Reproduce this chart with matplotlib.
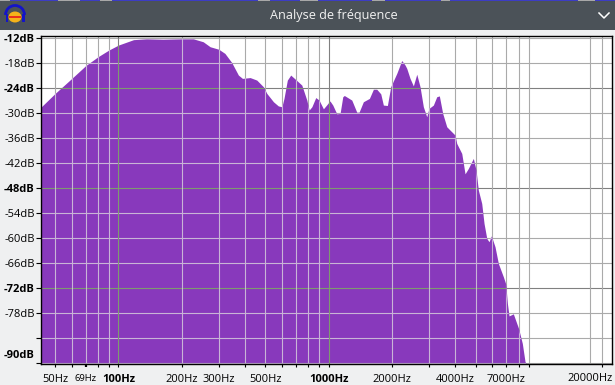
import matplotlib
matplotlib.use('Agg')
import matplotlib.pyplot as plt
from matplotlib.patches import Rectangle, Arc, Ellipse

plt.rcParams['font.family'] = ['Open Sans', 'DejaVu Sans']

# spectrum
freq = [42.8, 50, 60, 70, 80, 90, 100, 118, 136, 163, 200, 227, 253, 273, 300, 321, 346, 372, 389,
        423, 455, 489, 508, 546, 576, 599, 613, 636, 660, 705, 745, 787, 807, 832, 868, 900, 944,
        977, 1014, 1046, 1093, 1133, 1167, 1187, 1288, 1360, 1395, 1462, 1562, 1632, 1693, 1769,
        1820, 1902, 1973, 2108, 2226, 2309, 2352, 2438, 2528, 2624, 2720, 2820, 2927, 3000, 3147,
        3266, 3360, 3486, 3644, 3777, 3990, 4065, 4295, 4452, 4617, 4876, 5022, 5150, 5345, 5482,
        5649, 5790, 5940, 6182, 6412, 6773, 6950, 7080, 7209, 7556, 8000, 8337, 8590, 8730]
db = [-28.6, -25.3, -21.7, -18.6, -16.5, -14.9, -13.7, -12.4, -12.2, -12.3, -12.2, -12.2, -12.9,
      -14.1, -14.7, -15.7, -17.9, -20.9, -21.7, -21.5, -22.1, -23.7, -25.3, -27.3, -28.3, -28.5,
      -26.5, -22.1, -20.9, -22.2, -23.3, -26.9, -29.3, -28.5, -26.3, -26.9, -29.0, -28.1, -27.1,
      -28.1, -30.2, -30.1, -26.1, -25.8, -26.9, -29.8, -29.8, -27.3, -26.5, -24.3, -24.3, -25.4,
      -28.1, -28.2, -23.7, -20.5, -17.4, -18.5, -19.3, -21.7, -23.5, -20.7, -23.7, -28.5, -30.9,
      -28.9, -28.1, -26.1, -25.9, -30.1, -33.3, -34.1, -35.3, -37.3, -39.7, -44.6, -43.3, -40.9,
      -43.7, -48.5, -51.7, -56.5, -60.1, -60.9, -59.5, -62.1, -66.1, -69.3, -71.0, -75.7, -78.7,
      -78.2, -81.7, -85.3, -89.7, -90.2]

db_ticks = [-12, -18, -24, -30, -36, -42, -48, -54, -60, -66, -72, -78, -84, -90]
db_labels = ['-12dB', '-18dB', '-24dB', '-30dB', '-36dB', '-42dB', '-48dB', '-54dB', '-60dB',
             '-66dB', '-72dB', '-78dB', '', '']
db_bold = [-12, -24, -48, -72]
hz_ticks = [50, 60, 70, 80, 90, 100, 200, 300, 400, 500, 600, 700, 800, 900, 1000, 2000, 3000,
            4000, 5000, 6000, 7000, 8000, 9000, 20000]
hz_labels = {50: '50Hz', 70: '69Hz', 100: '100Hz', 200: '200Hz', 300: '300Hz', 500: '500Hz',
             1000: '1000Hz', 2000: '2000Hz', 4000: '4000Hz', 7000: '7000Hz'}
hz_dark = [100, 1000]
hz_extra = [17550]

W, H = 615, 385
fig = plt.figure(figsize=(W / 100, H / 100), dpi=100, facecolor='#eff0f1')

# window chrome, in pixels
bg = fig.add_axes([0, 0, 1, 1])
bg.set_xlim(0, W)
bg.set_ylim(H, 0)
bg.axis('off')
bg.add_patch(Rectangle((0, 1), W, 29, fc='#4b5258', ec='none'))
bg.add_patch(Rectangle((0, 0), W, 1.2, fc='#3c3cc4', ec='none'))
for a, b in [(0, 10), (58, 80), (100, 112), (258, 270), (300, 318), (372, 385), (441, 450), (578, 595)]:
    bg.add_patch(Rectangle((a, 0), b - a, 1.2, fc='#a8a8a8', ec='none'))
bg.add_patch(Ellipse((15, 17), 13, 11, fc='#f5b21a', ec='none'))
bg.add_patch(Rectangle((9, 16), 12, 2, fc='#e8301c', ec='none'))
bg.add_patch(Arc((15, 15), 19, 19, theta1=180, theta2=360, ec='#1414c8', lw=2))
bg.add_patch(Rectangle((5.5, 14), 2.5, 7.5, fc='#1414c8', ec='none'))
bg.add_patch(Rectangle((22, 14), 2.5, 7.5, fc='#1414c8', ec='none'))
bg.plot([599, 604, 609], [13, 18, 13], color='white', lw=1.1)
bg.text(333.5, 15.5, 'Analyse de fréquence', color='#f2f2f2', fontsize=9.1, ha='center', va='center')

ax = fig.add_axes([40.5 / W, 1 - 364 / H, (612 - 40.5) / W, (364 - 35.5) / H])
ax.set_xscale('log')
ax.set_xlim(42.6, 22260)
ax.set_ylim(-90.24, -11.4)
ax.set_facecolor('white')

poly = ax.fill_between(freq, db, -90.24, color='#8839bc', lw=0, zorder=2)

# grid: grey on white, tinted where it crosses the purple
for d in db_ticks:
    dark = d in db_bold[1:]
    ax.axhline(d, color='#808080' if dark else '#aaaaaa', lw=0.8, zorder=1)
    ln = ax.axhline(d, color='#7f9a70' if dark else '#c9b4d6', lw=0.8, zorder=3)
    ln.set_clip_path(poly.get_paths()[0], poly.get_transform())
for f in hz_ticks + hz_extra:
    dark = f in hz_dark
    ax.axvline(f, color='#808080' if dark else '#aaaaaa', lw=0.8, zorder=1)
    ln = ax.axvline(f, color='#7f9a70' if dark else '#c9b4d6', lw=0.8, zorder=3)
    ln.set_clip_path(poly.get_paths()[0], poly.get_transform())

ax.set_yticks(db_ticks)
ax.set_yticklabels(db_labels, fontsize=8)
for t, d in zip(ax.get_yticklabels(), db_ticks):
    if d in db_bold:
        t.set_fontweight('bold')
ax.tick_params(axis='y', length=3.6, width=0.8, pad=0.5, colors='black')
ax.annotate('-90dB', xy=(0, -90), xycoords=('axes fraction', 'data'), xytext=(-5.5, 8),
            textcoords='offset pixels', fontsize=8, fontweight='bold', ha='right', va='center')

ax.set_xticks(hz_ticks)
ax.set_xticklabels([hz_labels.get(f, '') for f in hz_ticks], fontsize=8)
ax.minorticks_off()
ax.tick_params(axis='x', length=2.3, width=0.8, pad=4.7, colors='black')
for t, f in zip(ax.get_xticklabels(), hz_ticks):
    if f in hz_dark:
        t.set_fontweight('bold')
    if f == 70:
        t.set_fontsize(6.8)
ax.get_xticklines()[hz_ticks.index(70) * 2].set_markeredgewidth(1.6)
ax.annotate('20000Hz', xy=(17550, 0), xycoords=('data', 'axes fraction'), xytext=(0, -9),
            textcoords='offset pixels', fontsize=8, ha='center', va='top')

for s in ax.spines.values():
    s.set_color('black')
    s.set_linewidth(1)
    s.set_zorder(5)

fig.savefig('out.png', dpi=100, facecolor=fig.get_facecolor())
